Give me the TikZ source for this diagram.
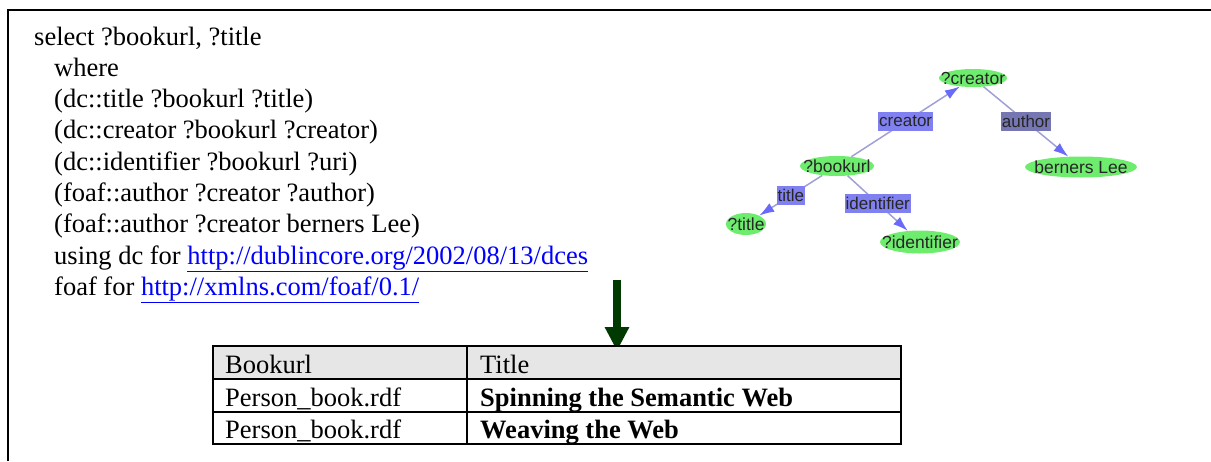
\documentclass[tikz,border=0pt]{standalone}
\usepackage{fontspec}
\setmainfont{Liberation Serif}
\setsansfont{Liberation Sans}
\usetikzlibrary{arrows.meta,shapes.geometric}

\definecolor{linkblue}{RGB}{0,0,255}
\definecolor{arrowgreen}{RGB}{0,58,0}
\definecolor{headgray}{RGB}{230,230,230}
\definecolor{vertexgreen}{RGB}{110,236,110}
\definecolor{propblue}{RGB}{128,128,240}
\definecolor{propslate}{RGB}{118,118,178}
\definecolor{edgelav}{RGB}{160,160,215}
\definecolor{tipblue}{RGB}{105,105,250}
\newcommand{\weblink}[1]{\textcolor{linkblue}{\underline{#1}}}

\begin{document}
\begin{tikzpicture}[x=1pt,y=-1pt,
    query/.style={anchor=base west,inner sep=0pt,font=\fontsize{26.5}{31}\selectfont},
    vertex/.style={ellipse,fill=vertexgreen,inner sep=0pt},
    vtext/.style={font=\sffamily\fontsize{17.5}{17.5}\selectfont,text=black!85},
    prop/.style={fill=propblue,inner xsep=1pt,inner ysep=0pt,minimum height=19pt,font=\sffamily\fontsize{17}{17}\selectfont,text=black!85},
    rel/.style={draw=edgelav,line width=1.5pt,-{Latex[length=15pt,width=10pt,color=tipblue]}}]
    \useasboundingbox (0,0) rectangle (1211,461);
    \draw[line width=2.5pt] (8,461) -- (8,10) -- (1211,10);

    \node[query] (q1) at (34,45) {select ?bookurl, ?title};
    \node[query] (q2) at (54,76.3) {where};
    \node[query] (q3) at (54,107.6) {(dc::title ?bookurl ?title)};
    \node[query] (q4) at (54,138.9) {(dc::creator ?bookurl ?creator)};
    \node[query] (q5) at (54,170.2) {(dc::identifier ?bookurl ?uri)};
    \node[query] (q6) at (54,201.5) {(foaf::author ?creator ?author)};
    \node[query] (q7) at (54,232.8) {(foaf::author ?creator berners Lee)};
    \node[query] (q8) at (54,264.1) {using dc for \weblink{http://dublincore.org/2002/08/13/dces}};
    \node[query] (q9) at (54,295.4) {foaf for \weblink{http://xmlns.com/foaf/0.1/}};

    \coordinate (arrowtop) at (617,280);
    \coordinate (arrowtip) at (617,351);
    \draw[arrowgreen,line width=8pt,-{Triangle[width=23pt,length=24pt]}] (arrowtop) -- (arrowtip);

    \fill[headgray] (213,346) rectangle (901,379);
    \draw[line width=2pt] (213,379) -- (901,379);
    \draw[line width=2pt] (213,412) -- (901,412);
    \draw[line width=2pt] (467,346) -- (467,444);
    \draw[line width=2pt] (213,346) rectangle (901,444);
    \node[query] (h1) at (225,373) {Bookurl};
    \node[query] (h2) at (480,373) {Title};
    \node[query] (r1a) at (225,406) {Person\_book.rdf};
    \node[query] (r1b) at (480,406) {\bfseries Spinning the Semantic Web};
    \node[query] (r2a) at (225,438) {Person\_book.rdf};
    \node[query] (r2b) at (480,438) {\bfseries Weaving the Web};

    \node[vertex,minimum width=68pt,minimum height=18pt,label={[vtext]center:?creator}] (creator) at (973,78) {};
    \node[vertex,minimum width=74pt,minimum height=20pt,label={[vtext]center:?bookurl}] (bookurl) at (837,166) {};
    \node[vertex,minimum width=112pt,minimum height=21pt,label={[vtext]center:berners Lee}] (berners) at (1081,167) {};
    \node[vertex,minimum width=40pt,minimum height=22pt,label={[vtext]center:?title}] (title) at (746,224) {};
    \node[vertex,minimum width=80pt,minimum height=23pt,label={[vtext]center:?identifier}] (identifier) at (920,242) {};

    \draw[rel] (bookurl) -- (creator) node[prop,midway] {creator};
    \draw[rel] (creator) -- (berners) node[prop,midway,fill=propslate] {author};
    \draw[rel] (bookurl) -- (title) node[prop,midway] {title};
    \draw[rel] (bookurl) -- (identifier) node[prop,midway] {identifier};
\end{tikzpicture}
\end{document}
